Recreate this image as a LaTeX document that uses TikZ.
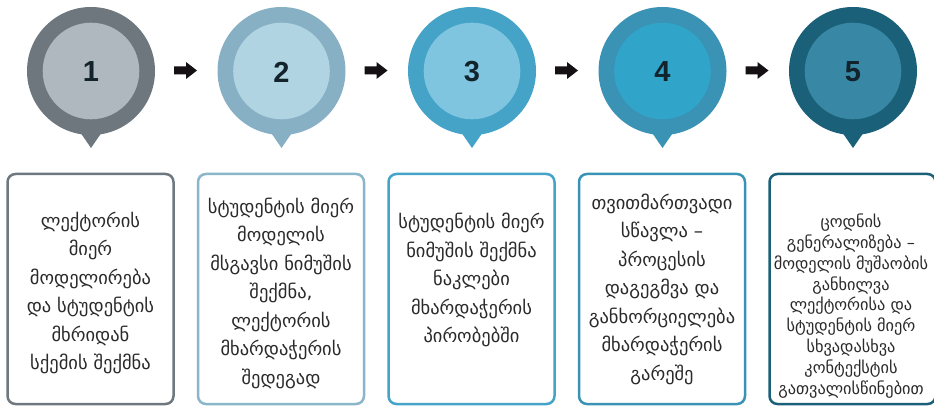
\documentclass[tikz,border=0pt]{standalone}
\usepackage{fontspec}
\setmainfont{DejaVu Sans}
\newfontfamily\numfont{Liberation Sans}
\begin{document}
\begin{tikzpicture}[x=1pt,y=-1pt,
  stepbox/.style={draw, line width=2.5pt, rounded corners=8pt},
  steptext/.style={align=center, text=txtc, font=\fontsize{18.5}{28.5}\selectfont, inner sep=0pt},
  numtext/.style={font=\numfont\bfseries\fontsize{29}{29}\selectfont, text=numc, inner sep=0pt},
  blockarrow/.style={fill=arrc, draw=none}]
\definecolor{txtc}{HTML}{2A2A2A}
\definecolor{numc}{HTML}{13232C}
\definecolor{arrc}{HTML}{141014}
\definecolor{oA}{HTML}{6D777D}\definecolor{iA}{HTML}{B0B8BF}
\definecolor{oB}{HTML}{87B0C4}\definecolor{iB}{HTML}{B0D4E1}
\definecolor{oC}{HTML}{44A3C7}\definecolor{iC}{HTML}{80C5DF}
\definecolor{oD}{HTML}{3A92B4}\definecolor{iD}{HTML}{31A4C9}
\definecolor{oE}{HTML}{1A6079}\definecolor{iE}{HTML}{3787A5}
\definecolor{bA}{HTML}{6F787E}
\definecolor{bB}{HTML}{8AB6CA}
\definecolor{bC}{HTML}{45A3C7}
\definecolor{bD}{HTML}{3A93B5}
\definecolor{bE}{HTML}{1B6079}
\useasboundingbox (0,0) rectangle (934,406);
% circles
\foreach \i/\o/\n/\lab in {0/oA/iA/1,1/oB/iB/2,2/oC/iC/3,3/oD/iD/4,4/oE/iE/5}{
  \pgfmathsetmacro{\cx}{91+190.5*\i}
  \fill[\o] (\cx-11,132) -- (\cx+11,132) -- (\cx,148) -- cycle;
  \fill[\o] (\cx,71) circle[radius=64];
  \fill[\n] (\cx,71) circle[radius=48.3];
  \node[numtext] (n\lab) at (\cx,72) {\lab};
}
% arrows
\foreach \i in {0,1,2,3}{
  \pgfmathsetmacro{\ax}{174+190.5*\i}
  \fill[arrc] (\ax,66.5) -- (\ax+12,66.5) -- (\ax+12,62) -- (\ax+23,70.5) -- (\ax+12,79) -- (\ax+12,74.5) -- (\ax,74.5) -- cycle;
}
% boxes
\draw[stepbox, bA] (7.5,174) rectangle (173.5,404);
\draw[stepbox, bB] (198,174) rectangle (364,404);
\draw[stepbox, bC] (388.5,174) rectangle (554.5,404);
\draw[stepbox, bD] (579,174) rectangle (745,404);
\draw[stepbox, bE] (769.5,174) rectangle (935.5,404);
\node[steptext] (t1) at (90.5,293) {ლექტორის\\მიერ\\მოდელირება\\და სტუდენტის\\მხრიდან\\სქემის შექმნა};
\node[steptext] (t2) at (281,293) {სტუდენტის მიერ\\მოდელის\\მსგავსი ნიმუშის\\შექმნა,\\ლექტორის\\მხარდაჭერის\\შედეგად};
\node[steptext] (t3) at (471.5,280) {სტუდენტის მიერ\\ნიმუშის შექმნა\\ნაკლები\\მხარდაჭერის\\პირობებში};
\node[steptext] (t4) at (662,289) {თვითმართვადი\\სწავლა –\\პროცესის\\დაგეგმვა და\\განხორციელება\\მხარდაჭერის\\გარეშე};
\node[steptext, font=\fontsize{16.3}{20.8}\selectfont] (t5) at (851,306) {ცოდნის\\გენერალიზება –\\მოდელის მუშაობის\\განხილვა\\ლექტორისა და\\სტუდენტის მიერ\\სხვადასხვა\\კონტექსტის\\გათვალისწინებით};
\end{tikzpicture}
\end{document}
